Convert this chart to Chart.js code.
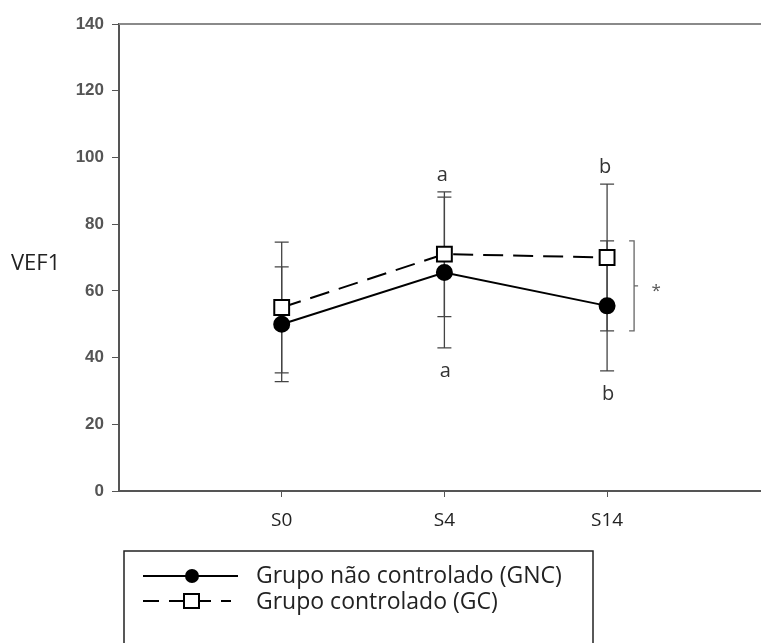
<!DOCTYPE html>
<html>
<head>
<meta charset="utf-8">
<script src="https://cdn.jsdelivr.net/npm/chart.js@4.4.1/dist/chart.umd.min.js"></script>
<style>
  html, body { margin: 0; padding: 0; background: #fff; }
  #wrap { width: 761px; height: 643px; }
</style>
</head>
<body>
<div id="wrap"><canvas id="vefChart" width="761" height="643"></canvas></div>
<script>
// values
const categories = ['S0', 'S4', 'S14'];
const gncMean = [50, 65.5, 55.5];
const gncSd = [17.2, 22.6, 19.5];
const gcMean = [55, 71, 70];
const gcSd = [19.6, 18.7, 22];
const yTicks = [0, 20, 40, 60, 80, 100, 120, 140];
const letterTop = ['', 'a', 'b'];
const letterBottom = ['', 'a', 'b'];
const legendNames = ['Grupo não controlado (GNC)', 'Grupo controlado (GC)'];

const textFont = '"Open Sans", "Noto Sans", sans-serif';

// error bars, letters, bracket, labels and boxed legend
const extras = {
    id: 'extras',
    beforeDatasetsDraw(chart) {
        const ctx = chart.ctx;
        const xs = chart.scales.x, ys = chart.scales.y;
        ctx.save();
        ctx.strokeStyle = '#444';
        ctx.lineWidth = 1.3;
        [[gncMean, gncSd], [gcMean, gcSd]].forEach(([m, s]) => {
            m.forEach((v, i) => {
                const x = xs.getPixelForValue(i + 1);
                const yt = ys.getPixelForValue(v + s[i]);
                const yb = ys.getPixelForValue(v - s[i]);
                ctx.beginPath();
                ctx.moveTo(x, yt); ctx.lineTo(x, yb);
                ctx.moveTo(x - 7, yt); ctx.lineTo(x + 7, yt);
                ctx.moveTo(x - 7, yb); ctx.lineTo(x + 7, yb);
                ctx.stroke();
            });
        });
        ctx.restore();
    },
    afterDraw(chart) {
        const ctx = chart.ctx;
        const xs = chart.scales.x, ys = chart.scales.y;
        const area = chart.chartArea;
        ctx.save();

        // top frame line
        ctx.strokeStyle = '#8a8a8a';
        ctx.lineWidth = 2;
        ctx.beginPath();
        ctx.moveTo(area.left, area.top);
        ctx.lineTo(chart.width, area.top);
        ctx.stroke();

        // significance letters
        ctx.fillStyle = '#333';
        ctx.font = '20px ' + textFont;
        ctx.textAlign = 'center';
        ctx.textBaseline = 'alphabetic';
        categories.forEach((c, i) => {
            const x = xs.getPixelForValue(i + 1);
            const hi = Math.max(gncMean[i] + gncSd[i], gcMean[i] + gcSd[i]);
            const lo = Math.min(gncMean[i] - gncSd[i], gcMean[i] - gcSd[i]);
            if (letterTop[i]) {
                ctx.fillText(letterTop[i], x - 2, ys.getPixelForValue(hi) - 11);
            }
            if (letterBottom[i]) {
                ctx.fillText(letterBottom[i], x + 1, ys.getPixelForValue(lo) + 29);
            }
        });

        // bracket with asterisk at last time point
        const last = categories.length - 1;
        const bx = xs.getPixelForValue(last + 1) + 27;
        const bTop = ys.getPixelForValue(gncMean[last] + gncSd[last]);
        const bBot = ys.getPixelForValue(gcMean[last] - gcSd[last]);
        ctx.strokeStyle = '#666';
        ctx.lineWidth = 1.3;
        ctx.beginPath();
        ctx.moveTo(bx - 5, bTop); ctx.lineTo(bx, bTop); ctx.lineTo(bx, bBot); ctx.lineTo(bx - 5, bBot);
        ctx.moveTo(bx, (bTop + bBot) / 2); ctx.lineTo(bx + 4, (bTop + bBot) / 2);
        ctx.stroke();
        ctx.fillStyle = '#555';
        ctx.font = '17px ' + textFont;
        ctx.textBaseline = 'middle';
        ctx.fillText('*', bx + 22, (bTop + bBot) / 2 + 5);

        // y label, horizontal
        ctx.fillStyle = '#222';
        ctx.font = '22px ' + textFont;
        ctx.textAlign = 'left';
        ctx.textBaseline = 'middle';
        ctx.fillText('VEF1', 11, 264);

        // legend box
        ctx.strokeStyle = '#222';
        ctx.lineWidth = 1.5;
        ctx.strokeRect(124, 551, 469, 120);

        ctx.strokeStyle = '#000';
        ctx.lineWidth = 2;
        ctx.beginPath();
        ctx.moveTo(143, 576); ctx.lineTo(238, 576);
        ctx.stroke();
        ctx.fillStyle = '#000';
        ctx.beginPath();
        ctx.arc(192, 576, 7, 0, Math.PI * 2);
        ctx.fill();

        ctx.setLineDash([16, 10]);
        ctx.beginPath();
        ctx.moveTo(143, 601); ctx.lineTo(231, 601);
        ctx.stroke();
        ctx.setLineDash([]);
        ctx.fillStyle = '#fff';
        ctx.fillRect(184, 594, 15, 14);
        ctx.strokeRect(184, 594, 15, 14);

        ctx.fillStyle = '#222';
        ctx.font = '23px ' + textFont;
        ctx.fillText(legendNames[0], 256, 576);
        ctx.fillText(legendNames[1], 256, 602);
        ctx.restore();
    }
};

const ctx = document.getElementById('vefChart').getContext('2d');
const vefChart = new Chart(ctx, {
    type: 'line',
    data: {
        datasets: [{
            label: legendNames[0],
            data: gncMean.map((v, i) => ({ x: i + 1, y: v })),
            borderColor: '#000',
            borderWidth: 2,
            pointStyle: 'circle',
            pointRadius: 7.5,
            pointBackgroundColor: '#000',
            pointBorderColor: '#000',
            tension: 0
        }, {
            label: legendNames[1],
            data: gcMean.map((v, i) => ({ x: i + 1, y: v })),
            borderColor: '#000',
            borderWidth: 2,
            borderDash: [20, 10],
            pointStyle: 'rect',
            pointRadius: 10.5,
            pointBackgroundColor: '#fff',
            pointBorderColor: '#000',
            pointBorderWidth: 2,
            tension: 0
        }]
    },
    options: {
        responsive: false,
        animation: false,
        layout: { autoPadding: false, padding: { top: 24, right: 0, left: 0, bottom: 0 } },
        scales: {
            x: {
                type: 'linear',
                min: 0,
                max: 3.946,
                afterBuildTicks: (scale) => { scale.ticks = categories.map((c, i) => ({ value: i + 1 })); },
                afterFit: (scale) => {
                    scale.height = 152;
                    scale.paddingLeft = 0;
                    scale.paddingRight = 0;
                },
                ticks: {
                    callback: (v) => categories[v - 1],
                    color: '#222',
                    font: { family: textFont, size: 19 },
                    padding: 12,
                    maxRotation: 0
                },
                grid: { drawOnChartArea: false, drawTicks: true, tickLength: 6, color: '#555' },
                border: { display: true, color: '#555', width: 2 }
            },
            y: {
                min: 0,
                max: 140,
                afterBuildTicks: (scale) => { scale.ticks = yTicks.map(v => ({ value: v })); },
                afterFit: (scale) => { scale.width = 119; },
                ticks: {
                    color: '#555',
                    font: { family: '"Liberation Sans", Arial, sans-serif', size: 17, weight: 'bold' },
                    padding: 8
                },
                grid: { drawOnChartArea: false, drawTicks: true, tickLength: 7, color: '#555' },
                border: { display: true, color: '#555', width: 2 }
            }
        },
        plugins: {
            legend: { display: false },
            tooltip: { enabled: false }
        }
    },
    plugins: [extras]
});
</script>
</body>
</html>
